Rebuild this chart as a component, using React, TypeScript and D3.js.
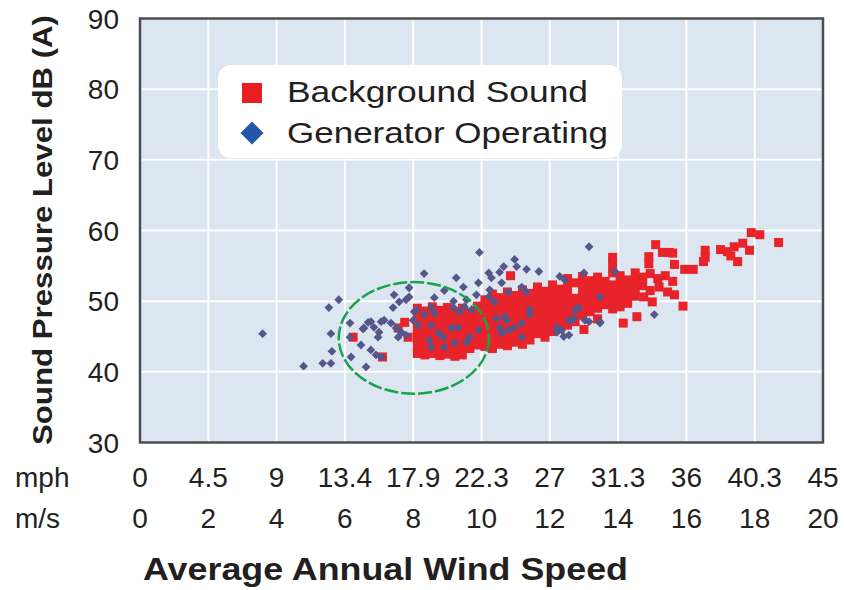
import React from 'react';
import * as d3 from 'd3';

// wind speed in m/s, sound level in dB(A)
const msTicks = [0, 2, 4, 6, 8, 10, 12, 14, 16, 18, 20];
const mphLabels = ['0', '4.5', '9', '13.4', '17.9', '22.3', '27', '31.3', '36', '40.3', '45'];
const dbTicks = [30, 40, 50, 60, 70, 80, 90];

// Background sound (red squares)
const bgLeft: [number, number][] = [
  [6.24, 44.9], [7.1, 42.1], [7.56, 46.2], [7.85, 44.9], [7.75, 47.0],
];
const bgCoreLow: [number, number][] = [
  [8.12, 49.0], [8.12, 48.0], [8.12, 46.9], [8.12, 45.8], [8.12, 44.7], [8.12, 43.6], [8.12, 42.6],
  [8.34, 48.6], [8.34, 47.5], [8.34, 46.4], [8.34, 45.3], [8.34, 44.2], [8.34, 43.1], [8.34, 42.4],
  [8.56, 49.2], [8.56, 48.1], [8.56, 47.0], [8.56, 45.9], [8.56, 44.8], [8.56, 43.7], [8.56, 42.6],
  [8.78, 48.7], [8.78, 47.6], [8.78, 46.5], [8.78, 45.4], [8.78, 44.3], [8.78, 43.2], [8.78, 42.3],
  [9.0, 49.1], [9.0, 48.0], [9.0, 46.9], [9.0, 45.8], [9.0, 44.7], [9.0, 43.6], [9.0, 42.5],
  [9.22, 48.5], [9.22, 47.4], [9.22, 46.3], [9.22, 45.2], [9.22, 44.1], [9.22, 43.0], [9.22, 42.2],
  [9.44, 49.0], [9.44, 47.9], [9.44, 46.8], [9.44, 45.7], [9.44, 44.6], [9.44, 43.5], [9.44, 42.4],
  [9.66, 48.4], [9.66, 47.3], [9.66, 46.2], [9.66, 45.1], [9.66, 44.0], [9.66, 43.3],
  [9.88, 49.3], [9.88, 48.2], [9.88, 47.1], [9.88, 46.0], [9.88, 44.9], [9.88, 43.8],
  [10.1, 50.2], [10.1, 49.1], [10.1, 48.0], [10.1, 46.9], [10.1, 45.8], [10.1, 44.7], [10.1, 43.6],
];
const bgCoreMid: [number, number][] = [
  [10.32, 51.0], [10.32, 49.9], [10.32, 48.8], [10.32, 47.7], [10.32, 46.6], [10.32, 45.5], [10.32, 44.4], [10.32, 43.3],
  [10.54, 50.5], [10.54, 49.4], [10.54, 48.3], [10.54, 47.2], [10.54, 46.1], [10.54, 45.0], [10.54, 43.9],
  [10.76, 51.3], [10.76, 50.2], [10.76, 49.1], [10.76, 48.0], [10.76, 46.9], [10.76, 45.8], [10.76, 44.7], [10.76, 43.7],
  [10.98, 50.8], [10.98, 49.7], [10.98, 48.6], [10.98, 47.5], [10.98, 46.4], [10.98, 45.3], [10.98, 44.2],
  [11.2, 51.6], [11.2, 50.5], [11.2, 49.4], [11.2, 48.3], [11.2, 47.2], [11.2, 46.1], [11.2, 45.0], [11.2, 43.9],
  [11.42, 51.1], [11.42, 50.0], [11.42, 48.9], [11.42, 47.8], [11.42, 46.7], [11.42, 45.6], [11.42, 44.5],
  [11.64, 52.0], [11.64, 50.9], [11.64, 49.8], [11.64, 48.7], [11.64, 47.6], [11.64, 46.5], [11.64, 45.4],
  [11.86, 51.4], [11.86, 50.3], [11.86, 49.2], [11.86, 48.1], [11.86, 47.0], [11.86, 45.9], [11.86, 44.9],
  [12.08, 52.3], [12.08, 51.2], [12.08, 50.1], [12.08, 49.0], [12.08, 47.9], [12.08, 46.8], [12.08, 45.7],
  [12.3, 51.7], [12.3, 50.6], [12.3, 49.5], [12.3, 48.4], [12.3, 47.3], [12.3, 46.2],
  [10.85, 53.6],
];
const bgCoreHigh: [number, number][] = [
  [12.52, 53.2], [12.52, 52.1], [12.52, 51.0], [12.52, 49.9], [12.52, 48.8], [12.52, 47.7], [12.52, 46.6],
  [12.74, 52.6], [12.74, 50.4], [12.74, 49.3], [12.74, 48.2], [12.74, 47.1],
  [12.96, 53.5], [12.96, 52.4], [12.96, 51.3], [12.96, 50.2], [12.96, 49.1], [12.96, 48.0], [13.0, 46.0],
  [13.18, 52.9], [13.18, 51.8], [13.18, 50.7], [13.18, 49.6], [13.18, 48.5],
  [13.4, 53.4], [13.4, 52.3], [13.4, 51.2], [13.4, 50.1], [13.4, 49.0], [13.4, 47.5],
  [13.62, 52.8], [13.62, 51.7], [13.62, 50.6], [13.62, 49.5],
  [13.84, 56.2], [13.84, 55.2], [13.84, 54.0], [13.84, 52.3], [13.84, 51.2], [13.84, 50.0], [13.84, 48.9],
  [14.06, 53.6], [14.06, 52.5], [14.06, 51.4], [14.06, 50.3], [14.06, 49.2],
  [14.28, 53.0], [14.28, 51.9], [14.28, 50.8], [14.28, 49.7], [14.15, 46.9],
  [14.5, 54.0], [14.5, 52.9], [14.5, 51.8], [14.5, 50.7], [14.55, 47.8],
];
const bgUpper: [number, number][] = [
  [14.9, 56.3], [14.9, 55.3], [15.1, 58.0], [15.3, 56.9], [15.5, 56.9], [15.65, 55.2], [15.95, 54.5], [16.2, 54.5],
  [14.72, 53.4], [14.94, 53.9], [15.16, 53.2], [15.38, 53.6], [15.6, 52.8], [14.72, 52.2], [14.94, 51.5],
  [15.2, 52.0], [15.45, 51.3], [15.65, 50.9], [14.75, 50.6], [15.0, 49.9], [15.9, 49.3], [15.6, 56.8],
  [16.55, 57.2], [16.55, 56.2], [16.5, 55.6], [17.0, 57.3], [17.3, 56.4], [17.5, 55.6], [17.4, 57.7],
  [17.65, 58.2], [17.85, 57.2], [17.9, 59.7], [18.15, 59.4], [18.7, 58.3], [17.2, 57.0],
];

// Generator operating (blue diamonds)
const genLow: [number, number][] = [
  [3.59, 45.4], [4.79, 40.8], [5.35, 41.2], [5.59, 41.2], [5.62, 42.9], [5.59, 45.4], [5.53, 49.1], [5.82, 50.2],
  [6.15, 46.9], [6.15, 44.9], [6.18, 42.1], [6.47, 43.8], [6.62, 40.7], [6.56, 46.2], [6.68, 47.0],
  [6.53, 46.1], [6.85, 46.3], [7.0, 45.6], [6.97, 44.9], [6.76, 47.1], [7.06, 47.1],
  [6.76, 43.1], [6.91, 42.4], [7.06, 42.1],
  [7.15, 47.3], [7.35, 46.9], [7.5, 46.2], [7.65, 45.6], [7.79, 45.2], [7.56, 44.9],
  [7.41, 49.1], [7.59, 49.9], [7.79, 50.2], [7.88, 50.6], [7.88, 51.9], [7.44, 50.9],
  [8.0, 47.3], [8.15, 46.6], [8.09, 48.8],
];
const genMid: [number, number][] = [
  [9.94, 56.9], [8.32, 53.9], [9.26, 53.3], [8.91, 51.5], [9.47, 52.0], [9.91, 52.6], [9.56, 50.2], [9.85, 50.9],
  [8.62, 50.5], [9.18, 50.0], [8.53, 49.1], [8.62, 48.3], [8.32, 48.1], [8.03, 48.5],
  [9.18, 49.1], [9.35, 48.5], [9.5, 49.2], [9.71, 48.8],
  [8.53, 46.6], [8.74, 45.5], [8.47, 44.5], [8.88, 44.9], [9.12, 46.2], [9.32, 46.3], [9.65, 44.9], [9.91, 45.9],
  [9.21, 44.1], [9.56, 44.2], [8.91, 43.5], [8.53, 43.5],
];
const genHigh: [number, number][] = [
  [10.21, 54.0], [10.29, 53.3], [10.53, 54.1], [10.65, 54.9], [10.97, 55.9], [11.03, 54.9], [11.32, 54.5], [11.68, 54.2],
  [10.24, 51.6], [10.59, 52.6], [10.79, 51.3], [11.18, 52.0], [11.32, 51.3], [10.21, 50.6], [10.38, 49.9],
  [10.44, 47.6], [10.74, 47.3], [10.53, 46.2], [10.79, 45.9], [11.18, 46.9], [11.41, 48.1], [11.18, 44.9],
  [10.97, 46.3], [10.68, 47.8], [10.59, 45.5], [11.41, 48.8],
  [13.15, 57.7], [12.29, 53.5], [12.44, 53.0], [13.0, 54.0], [13.91, 54.2], [13.47, 50.6],
  [12.74, 48.8], [12.56, 47.3], [12.71, 47.6], [13.03, 47.3], [13.47, 46.9], [12.21, 45.6], [12.41, 45.0],
  [12.85, 49.1], [12.65, 47.3], [12.21, 46.3], [12.35, 45.9], [12.56, 45.2], [13.15, 47.1], [13.47, 47.1],
  [15.06, 48.1],
];

// highlighted region (ellipse): centre m/s, centre dB, radius m/s, radius dB
const circleCenter = [8.02, 44.8];
const circleRadius = [2.2, 7.9];

const legendItems = ['Background Sound', 'Generator Operating'];

const FONT = '"Liberation Sans", Arial, Helvetica, sans-serif';
const TEXT = '#231f20';

export default function App() {
  const x = d3.scaleLinear().domain([0, 20]).range([140, 823]);
  const y = d3.scaleLinear().domain([30, 90]).range([442.5, 18.5]);

  const bgSound = [...bgLeft, ...bgCoreLow, ...bgCoreMid, ...bgCoreHigh, ...bgUpper];
  const genOp = [...genLow, ...genMid, ...genHigh];

  const diamond = (r: number) => `M0,${-r}L${r},0L0,${r}L${-r},0Z`;

  const [x0, x1] = x.range();
  const [y0, y1] = y.range();
  const sq = 9; // red square size in px

  return (
    <svg width={844} height={590} style={{ position: 'absolute', left: 0, top: 0, background: '#fff' }}
      fontFamily={FONT}>
      {/* plot background */}
      <rect x={x0} y={y1} width={x1 - x0} height={y0 - y1} fill="#dce6f1" />

      {/* grid */}
      {msTicks.slice(1, -1).map(t => (
        <line key={'gx' + t} x1={x(t)} x2={x(t)} y1={y1} y2={y0} stroke="#fff" strokeWidth={2} />
      ))}
      {dbTicks.slice(1, -1).map(t => (
        <line key={'gy' + t} x1={x0} x2={x1} y1={y(t)} y2={y(t)} stroke="#fff" strokeWidth={2} />
      ))}

      {/* legend */}
      <rect x={218} y={65} width={404} height={93} rx={13} fill="#fff" />
      <rect x={242} y={83} width={20} height={20} fill="#ec1c24" />
      <path d={diamond(11.5)} transform="translate(252,133)" fill="#2456a8" />
      {legendItems.map((t, i) => (
        <text key={t} x={287} y={102 + i * 41} fontSize={30} fill={TEXT}
          textLength={i === 0 ? 301 : 321} lengthAdjust="spacingAndGlyphs">{t}</text>
      ))}

      {/* background sound */}
      {bgSound.map((d, i) => (
        <rect key={'b' + i} x={x(d[0]) - sq / 2} y={y(d[1]) - sq / 2} width={sq} height={sq} fill="#e8232a" />
      ))}

      {/* generator operating */}
      {genOp.map((d, i) => (
        <path key={'g' + i} d={diamond(4.4)} transform={`translate(${x(d[0])},${y(d[1])})`} fill="#55568a" />
      ))}

      {/* highlight */}
      <ellipse cx={x(circleCenter[0])} cy={y(circleCenter[1])}
        rx={x(circleCenter[0] + circleRadius[0]) - x(circleCenter[0])}
        ry={y(circleCenter[1] - circleRadius[1]) - y(circleCenter[1])}
        fill="none" stroke="#17a24b" strokeWidth={2.5} strokeDasharray="14 3" />

      {/* frame */}
      <rect x={x0} y={y1} width={x1 - x0} height={y0 - y1} fill="none" stroke="#4d4d4f" strokeWidth={2.5} />

      {/* y ticks */}
      {dbTicks.map(t => (
        <text key={'yt' + t} x={119} y={y(t)} dy="0.36em" textAnchor="end" fontSize={28} fill={TEXT}>{t}</text>
      ))}
      <text transform="translate(52,230) rotate(-90)" textAnchor="middle" fontSize={28} fontWeight="bold"
        fill={TEXT} textLength={430} lengthAdjust="spacingAndGlyphs">Sound Pressure Level dB (A)</text>

      {/* x ticks: mph and m/s rows */}
      <text x={15} y={487} fontSize={28} fill={TEXT}>mph</text>
      <text x={15} y={528} fontSize={28} fill={TEXT}>m/s</text>
      {msTicks.map((t, i) => (
        <g key={'xt' + t}>
          <text x={x(t)} y={487} textAnchor="middle" fontSize={28} fill={TEXT}>{mphLabels[i]}</text>
          <text x={x(t)} y={528} textAnchor="middle" fontSize={28} fill={TEXT}>{t}</text>
        </g>
      ))}
      <text x={143} y={580} fontSize={32} fontWeight="bold" fill={TEXT}
        textLength={485} lengthAdjust="spacingAndGlyphs">Average Annual Wind Speed</text>
    </svg>
  );
}
